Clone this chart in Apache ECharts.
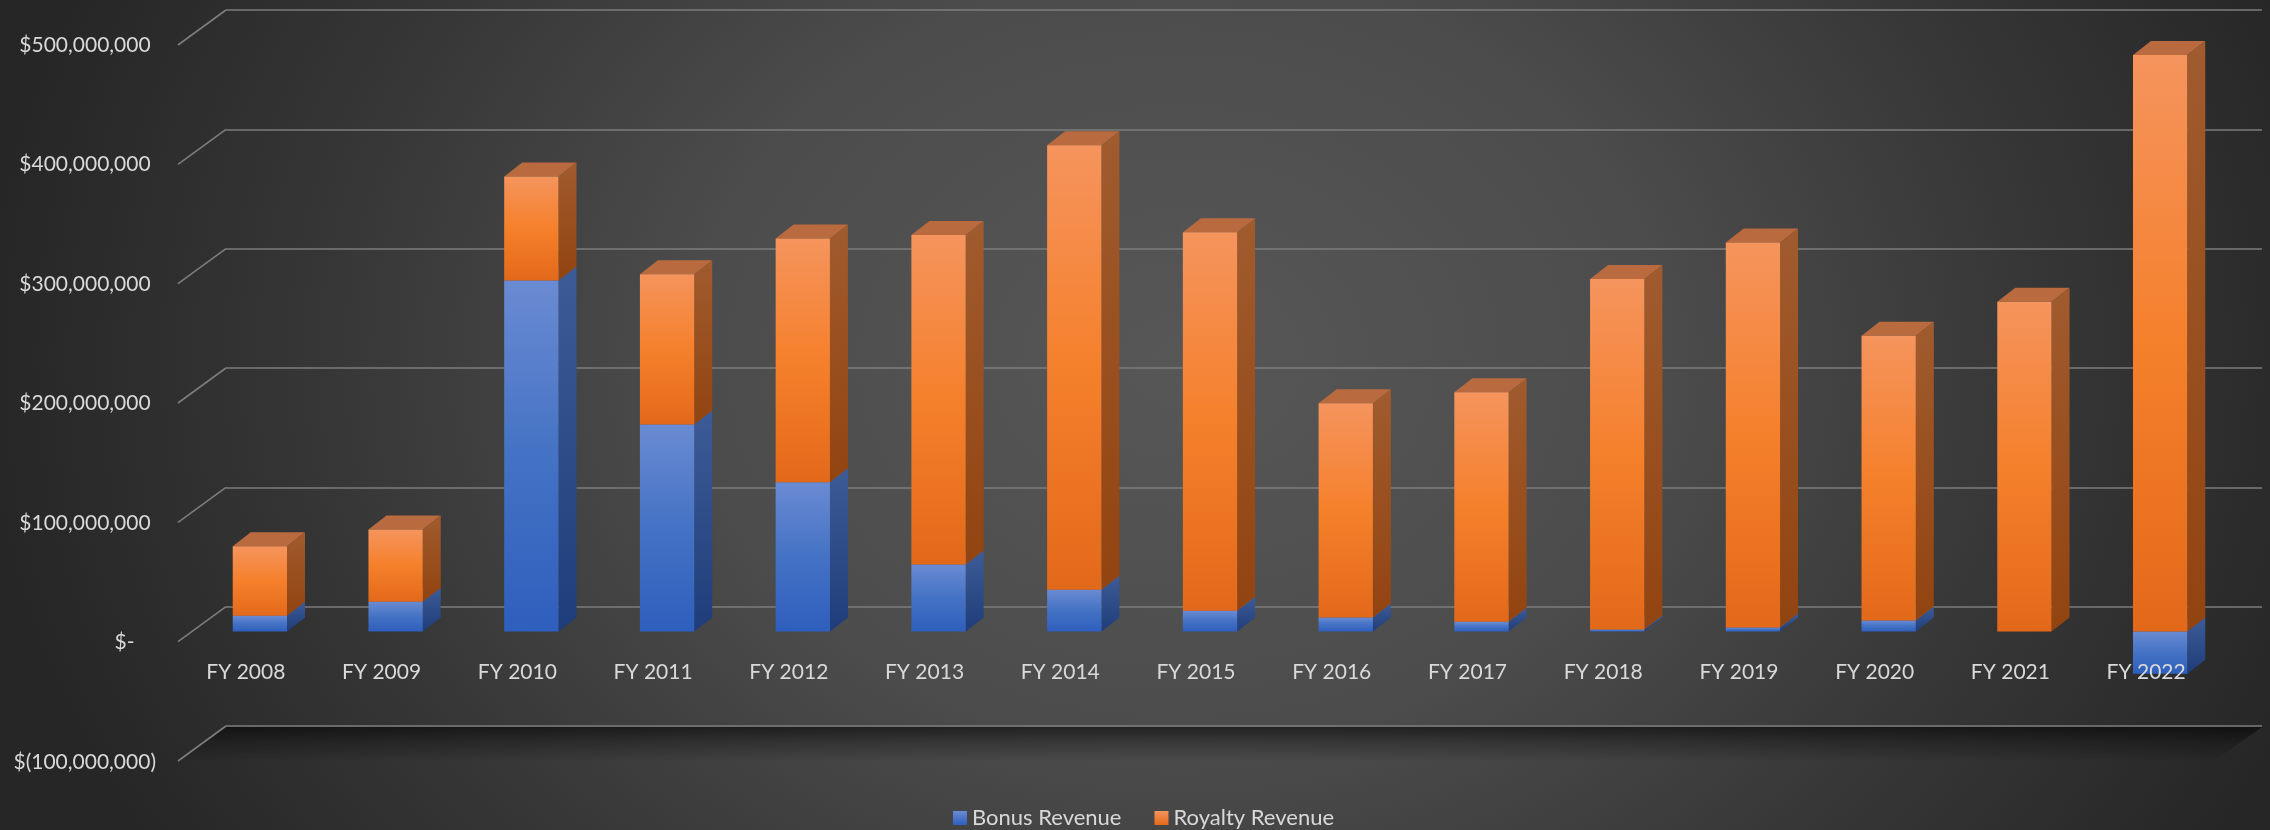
<!DOCTYPE html>
<html>
<head>
    <meta charset="utf-8">
    <title>Bonus and Royalty Revenue</title>
    <script src="https://cdn.jsdelivr.net/npm/echarts@6/dist/echarts.min.js"></script>
    <style>
        html, body {
            margin: 0;
            padding: 0;
            background: #262626;
        }
        #chart {
            width: 2270px;
            height: 830px;
            background: radial-gradient(ellipse 1200px 950px at 1180px 360px, #575757 0%, #4c4c4c 40%, #363636 72%, #262626 100%);
        }
    </style>
</head>
<body>
<div id="chart"></div>
<script type="text/javascript">
    // values
    var categories = ['FY 2008', 'FY 2009', 'FY 2010', 'FY 2011', 'FY 2012', 'FY 2013', 'FY 2014', 'FY 2015',
        'FY 2016', 'FY 2017', 'FY 2018', 'FY 2019', 'FY 2020', 'FY 2021', 'FY 2022'];
    var bonusRevenue = [13100000, 25000000, 293700000, 173200000, 125000000, 56000000, 34900000, 17300000,
        11700000, 8100000, 1700000, 3300000, 9200000, 0, -35400000];
    var royaltyRevenue = [58300000, 60400000, 87100000, 125800000, 203900000, 275700000, 372100000, 316900000,
        179300000, 192200000, 293300000, 322200000, 238200000, 276000000, 482500000];
    var yTicks = [-100000000, 0, 100000000, 200000000, 300000000, 400000000, 500000000];

    var yMin = -100000000, yMax = 500000000, yStep = 100000000;
    var barDX = 18, barDY = 14;      // depth of a bar
    var floorDX = 48, floorDY = 35;  // depth of the floor (back wall -> front edge)
    var fontFam = 'Lato, "Open Sans", sans-serif';
    var txtColor = '#d9d9d9';

    function vgrad(a, b, c) {
        var stops = c ? [{offset: 0, color: a}, {offset: 0.5, color: b}, {offset: 1, color: c}]
                      : [{offset: 0, color: a}, {offset: 1, color: b}];
        return {type: 'linear', x: 0, y: 0, x2: 0, y2: 1, colorStops: stops};
    }

    var faces = [
        { // bonus (blue)
            front: function () { return vgrad('#6a8bd3', '#4472c4', '#2e5fbd'); },
            side: function () { return vgrad('#3d5b96', '#1f3d7a'); },
            top: '#4b6cab'
        },
        { // royalty (orange)
            front: function () { return vgrad('#f5945d', '#f5802b', '#e3691a'); },
            side: function () { return vgrad('#a05b2e', '#924410'); },
            top: '#b96b3f'
        }
    ];

    // stacked segments: [category, low, high]
    var bonusData = [], royaltyData = [];
    for (var i = 0; i < categories.length; i++) {
        var b = bonusRevenue[i];
        bonusData.push([i, 0, b]);
        var base = b > 0 ? b : 0;
        royaltyData.push([i, base, base + royaltyRevenue[i]]);
    }

    function renderBox(params, api) {
        var lo = api.value(1), hi = api.value(2);
        if (lo === hi) return;
        var p1 = api.coord([api.value(0), lo]);
        var p2 = api.coord([api.value(0), hi]);
        var w = api.size([1, 0])[0] * 0.4;
        var x0 = p1[0] - w / 2, x1 = x0 + w;
        var yt = Math.min(p1[1], p2[1]), yb = Math.max(p1[1], p2[1]);
        var f = faces[params.seriesIndex - 2];
        return {
            type: 'group',
            children: [
                {
                    type: 'polygon',
                    shape: {points: [[x1, yb], [x1 + barDX, yb - barDY], [x1 + barDX, yt - barDY], [x1, yt]]},
                    style: {fill: f.side()}
                },
                {
                    type: 'polygon',
                    shape: {points: [[x0, yt], [x1, yt], [x1 + barDX, yt - barDY], [x0 + barDX, yt - barDY]]},
                    style: {fill: f.top}
                },
                {
                    type: 'rect',
                    shape: {x: x0, y: yt, width: w, height: yb - yt},
                    style: {fill: f.front()}
                }
            ]
        };
    }

    function money(v) {
        if (v === 0) return '$-    ';
        var s = Math.abs(v).toLocaleString('en-US');
        return v < 0 ? '$(' + s + ')' : '$' + s + ' ';
    }

    var valueAxis = function (gi, extra) {
        return Object.assign({
            type: 'value', gridIndex: gi, min: yMin, max: yMax, interval: yStep,
            axisLine: {show: false}, axisTick: {show: false},
            axisLabel: {show: false}, splitLine: {show: false}
        }, extra || {});
    };
    var catAxis = function (gi, extra) {
        return Object.assign({
            type: 'category', gridIndex: gi, data: categories,
            axisLine: {show: false}, axisTick: {show: false},
            axisLabel: {show: false}, splitLine: {show: false}
        }, extra || {});
    };

    var myChart = echarts.init(document.getElementById('chart'));
    var option = {
        backgroundColor: 'transparent',
        animation: false,
        textStyle: {fontFamily: fontFam},
        grid: [
            {left: 226, top: 10, width: 2036, height: 716},   // back wall
            {left: 192, top: 34, width: 2036, height: 717},   // bar plane
            {left: 178, top: 45, width: 2036, height: 717}    // front edge (labels)
        ],
        xAxis: [
            catAxis(0),
            catAxis(1),
            catAxis(2, {
                z: 10,
                position: 'bottom',
                offset: -120,   // lift labels from the -100M edge to the zero line
                axisLine: {show: false, onZero: false},
                axisLabel: {show: true, color: txtColor, fontSize: 21, fontFamily: fontFam, margin: 20, interval: 0}
            })
        ],
        yAxis: [
            valueAxis(0, {splitLine: {show: true, lineStyle: {color: '#7d7d7d', width: 1.6}}}),
            valueAxis(1),
            valueAxis(2, {
                z: 10,
                axisLabel: {show: true, color: txtColor, fontSize: 21, fontFamily: fontFam, margin: 22,
                    formatter: money}
            })
        ],
        legend: {
            data: ['Bonus Revenue', 'Royalty Revenue'],
            left: 953, top: 807, padding: 0,
            icon: 'rect', itemWidth: 14, itemHeight: 14, itemGap: 33,
            textStyle: {color: txtColor, fontSize: 22, fontFamily: fontFam}
        },
        series: [
            {
                // floor shadow under the lowest gridline
                type: 'custom', xAxisIndex: 0, yAxisIndex: 0, silent: true, z: 1,
                data: [[0, yMin]],
                renderItem: function (params, api) {
                    var p = api.coord([0, api.value(1)]);
                    var x = params.coordSys.x, w = params.coordSys.width;
                    return {
                        type: 'polygon',
                        shape: {points: [[x, p[1] + 1], [x + w, p[1] + 1], [x + w - floorDX, p[1] + floorDY],
                            [x - floorDX, p[1] + floorDY]]},
                        style: {fill: {type: 'linear', x: 0, y: 0, x2: 0, y2: 1, colorStops: [
                            {offset: 0, color: 'rgba(0,0,0,0.55)'}, {offset: 0.45, color: 'rgba(0,0,0,0.25)'},
                            {offset: 1, color: 'rgba(0,0,0,0)'}]}}
                    };
                }
            },
            {
                // side-wall diagonals from each gridline to the label edge
                type: 'custom', xAxisIndex: 0, yAxisIndex: 0, silent: true, z: 1,
                data: yTicks.map(function (v) { return [0, v]; }),
                renderItem: function (params, api) {
                    var p = api.coord([0, api.value(1)]);
                    var x = params.coordSys.x;
                    return {
                        type: 'line',
                        shape: {x1: x, y1: p[1], x2: x - floorDX, y2: p[1] + floorDY},
                        style: {stroke: '#7d7d7d', lineWidth: 1.6}
                    };
                }
            },
            {
                name: 'Bonus Revenue', type: 'custom', xAxisIndex: 1, yAxisIndex: 1, z: 2,
                itemStyle: {color: vgrad('#6a8bd3', '#2e5fbd')},
                encode: {x: 0, y: [1, 2]},
                data: bonusData,
                renderItem: renderBox
            },
            {
                name: 'Royalty Revenue', type: 'custom', xAxisIndex: 1, yAxisIndex: 1, z: 2,
                itemStyle: {color: vgrad('#f5945d', '#e3691a')},
                encode: {x: 0, y: [1, 2]},
                data: royaltyData,
                renderItem: renderBox
            }
        ]
    };
    myChart.setOption(option);
</script>
</body>
</html>
